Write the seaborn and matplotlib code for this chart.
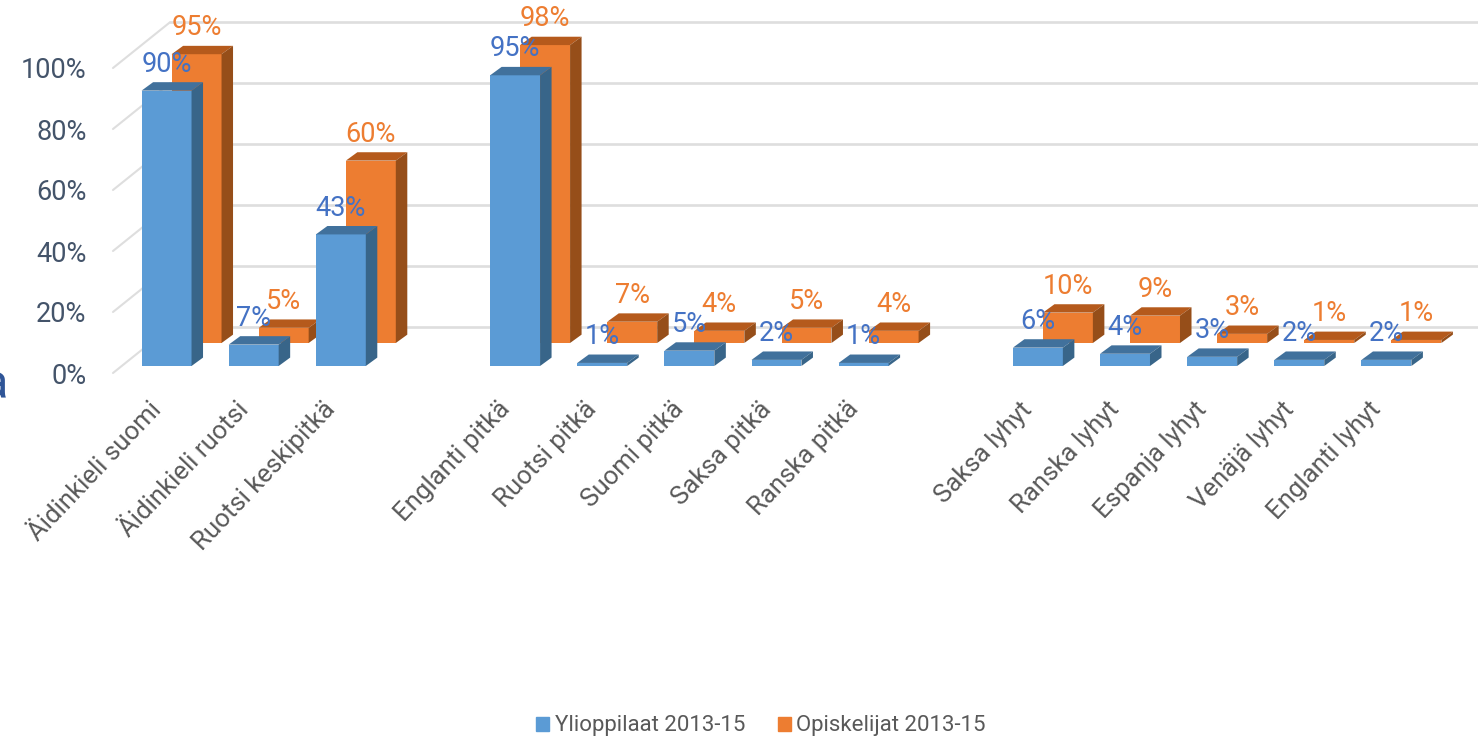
import matplotlib
matplotlib.use("Agg")
import matplotlib.pyplot as plt
import seaborn as sns
from matplotlib.patches import Patch, Polygon
from matplotlib.transforms import ScaledTranslation

# ---------------------------
# Data
# ---------------------------

subjects = ["Äidinkieli suomi", "Äidinkieli ruotsi", "Ruotsi keskipitkä",
            "Englanti pitkä", "Ruotsi pitkä", "Suomi pitkä", "Saksa pitkä", "Ranska pitkä",
            "Saksa lyhyt", "Ranska lyhyt", "Espanja lyhyt", "Venäjä lyhyt", "Englanti lyhyt"]
ylioppilaat = [90, 7, 43, 95, 1, 5, 2, 1, 6, 4, 3, 2, 2]
opiskelijat = [95, 5, 60, 98, 7, 4, 5, 4, 10, 9, 3, 1, 1]
percent_ticks = [0, 20, 40, 60, 80, 100]

# empty slots separate the three groups of subjects
slots = subjects[:3] + [" "] + subjects[3:8] + ["  "] + subjects[8:]

W, H = 1478, 738
DEPTH_X = 0.132   # bar depth, in category units
DEPTH_Y = 2.75    # bar depth, in percent units


def box(left, top, right, bottom):
    return [left / W, 1 - bottom / H, (right - left) / W, (bottom - top) / H]


def draw_bars(ax, values, front, top, side, label_color):
    sns.barplot(x=subjects, y=values, order=slots, color=front, saturation=1,
                width=0.573, linewidth=0, ax=ax)
    ax.set_xlim(-0.5, len(slots) - 0.5)
    ax.set_ylim(0, 100)
    for bar in list(ax.patches):
        x0 = bar.get_x()
        x1 = x0 + bar.get_width()
        h = bar.get_height()
        ax.add_patch(Polygon([(x0, h), (x1, h), (x1 + DEPTH_X, h + DEPTH_Y), (x0 + DEPTH_X, h + DEPTH_Y)],
                             facecolor=top, edgecolor="none", clip_on=False))
        ax.add_patch(Polygon([(x1, 0), (x1 + DEPTH_X, DEPTH_Y), (x1 + DEPTH_X, h + DEPTH_Y), (x1, h)],
                             facecolor=side, edgecolor="none", clip_on=False))
        ax.annotate(f"{h:.0f}%", (x0 + bar.get_width() / 2, h), xytext=(0, 19), textcoords="offset points",
                    ha="center", va="center", color=label_color, fontsize=19.5, annotation_clip=False)
    ax.patch.set_alpha(0)
    ax.set_yticks([])
    ax.tick_params(axis="x", length=0)
    sns.despine(ax=ax, left=True, bottom=True)


sns.set_style("white")
plt.rcParams["font.family"] = ["Roboto", "DejaVu Sans"]

fig = plt.figure(figsize=(W / 100, H / 100), dpi=100)

# ---------------------------
# Back wall and side wall
# ---------------------------

ax_wall = fig.add_axes(box(170, 22, 1478, 327), zorder=0)
ax_wall.set_ylim(0, 100)
ax_wall.set_xticks([])
ax_wall.set_yticks(percent_ticks)
ax_wall.set_yticklabels([])
ax_wall.grid(axis="y", color="#DEDEDE", linewidth=1.9)
for line in ax_wall.get_ygridlines():
    line.set_clip_on(False)
ax_wall.tick_params(axis="y", length=0)
ax_wall.set_axisbelow(True)
for s in ax_wall.spines.values():
    s.set_visible(False)

ax_side = fig.add_axes(box(113, 68, 170, 373), zorder=0)
ax_side.set_xlim(0, 1)
ax_side.set_ylim(0, 100)
ax_side.patch.set_alpha(0)
for v in percent_ticks:
    ax_side.plot([0, 1], [v, v + 15], color="#DEDEDE", linewidth=1.5, clip_on=False)
ax_side.set_xticks([])
ax_side.set_yticks(percent_ticks)
ax_side.set_yticklabels([f"{v}%" for v in percent_ticks], fontsize=19.5, color="#44546A")
ax_side.tick_params(axis="y", length=0, pad=19)
for s in ax_side.spines.values():
    s.set_visible(False)

# ---------------------------
# Bars
# ---------------------------

ax_orange = fig.add_axes(box(153, 39, 1460, 343), zorder=1)
draw_bars(ax_orange, opiskelijat, "#ED7D31", "#B55A1C", "#964E19", "#ED7D31")
ax_orange.set_xticks([])

ax_blue = fig.add_axes(box(123, 60, 1430, 366), zorder=2)
draw_bars(ax_blue, ylioppilaat, "#5B9BD5", "#41719C", "#386589", "#4472C4")
ax_blue.set_xlabel("")
ax_blue.set_xticks(range(len(slots)))
ax_blue.set_xticklabels(slots, rotation=46.5, ha="right", rotation_mode="anchor",
                        fontsize=18.5, color="#595959")
ax_blue.tick_params(axis="x", pad=22.5)
shift = ScaledTranslation(-13 / 72, 0, fig.dpi_scale_trans)
for label in ax_blue.get_xticklabels():
    label.set_transform(label.get_transform() + shift)

# cropped letter at the left edge of the picture
fig.text(8 / W, 1 - 398 / H, "a", ha="right", va="baseline", fontsize=35, color="#2F5597")

fig.legend(handles=[Patch(color="#5B9BD5", label="Ylioppilaat 2013-15"),
                    Patch(color="#ED7D31", label="Opiskelijat 2013-15")],
           loc="center", bbox_to_anchor=(761 / W, 1 - 726 / H), ncols=2, frameon=False,
           fontsize=16, labelcolor="#595959", handlelength=0.6, handleheight=0.6,
           handletextpad=0.25, columnspacing=1.45)

fig.savefig("out.png", dpi=100)
